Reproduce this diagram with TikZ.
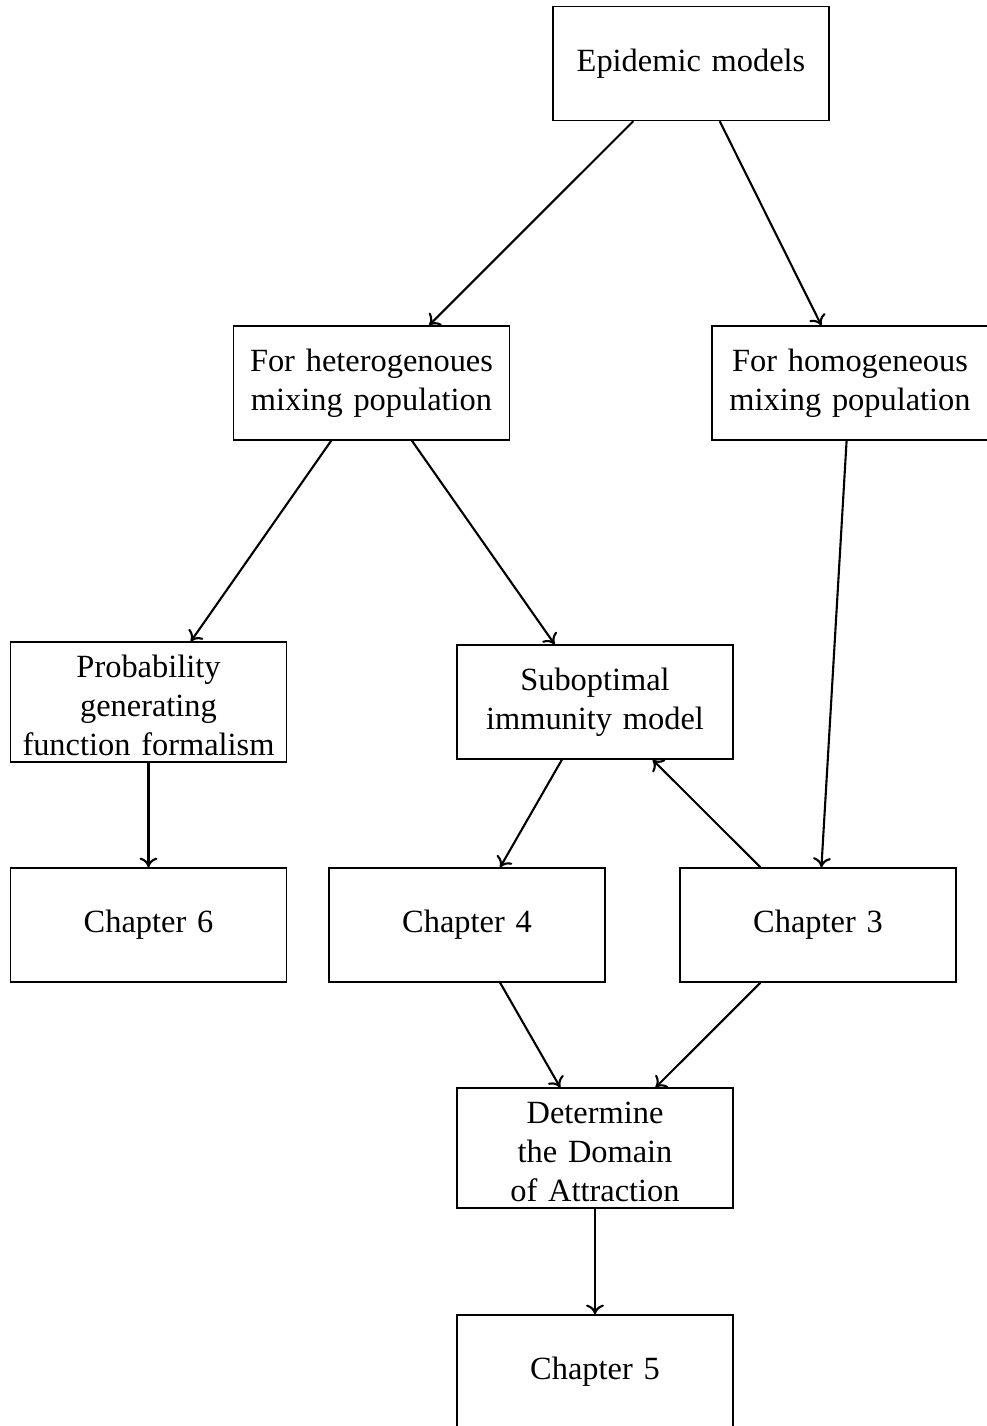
\documentclass[tikz,border=0pt]{standalone}
\usepackage{fontspec}
\setmainfont{Liberation Serif}
\usetikzlibrary{arrows.meta}
\newcommand{\topstrut}{\rule{0pt}{9pt}}
\begin{document}
\begin{tikzpicture}[x=0.3086pt,y=-0.3086pt,
  box/.style={draw, minimum width=85.2pt, minimum height=35.2pt, text width=80pt,
    align=center, inner xsep=2.6pt, inner ysep=2pt},
  tall/.style={minimum height=37pt, inner ysep=0.9pt},
  arr/.style={-{To[length=3pt,width=5.5pt]}, line width=0.65pt}]
\useasboundingbox (0,0) rectangle (987,1426);
\node[box] (epi) at (691,63.5) {Epidemic models};
\node[box] (het) at (371.5,383) {For heterogenoues mixing population};
\node[box] (hom) at (850,383) {For homogeneous mixing population};
\node[box, tall] (prob) at (148.5,702) {\topstrut Probability generating function formalism};
\node[box] (sub) at (595,702) {Suboptimal immunity model};
\node[box] (ch6) at (148.5,925) {Chapter 6};
\node[box] (ch4) at (467,925) {Chapter 4};
\node[box] (ch3) at (818,925) {Chapter 3};
\node[box, tall, text width=54pt] (dom) at (595,1148) {\topstrut Determine the Domain of Attraction};
\node[box] (ch5) at (595,1372) {Chapter 5};
\draw[arr] (epi) -- (het);
\draw[arr] (epi) -- (hom);
\draw[arr] (het) -- (prob);
\draw[arr] (het) -- (sub);
\draw[arr] (hom) -- (ch3);
\draw[arr] (prob) -- (ch6);
\draw[arr] (sub) -- (ch4);
\draw[arr] (ch3) -- (sub);
\draw[arr] (ch4) -- (dom);
\draw[arr] (ch3) -- (dom);
\draw[arr] (dom) -- (ch5);
\end{tikzpicture}
\end{document}
